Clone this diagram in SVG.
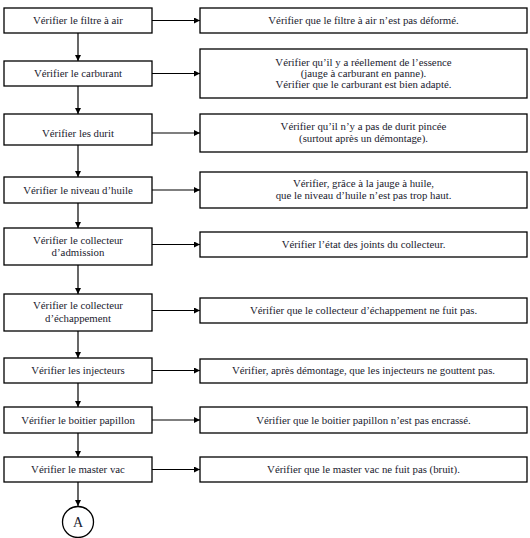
<svg xmlns="http://www.w3.org/2000/svg" width="530" height="538" viewBox="0 0 530 538">
<style>
.box{fill:#fff;stroke:#000;stroke-width:1.3}
text{font-family:"Liberation Serif","Times New Roman",serif;font-size:10.8px;fill:#1a1a2e;text-anchor:middle}
.ln{stroke:#000;stroke-width:1.2;fill:none}
</style>
<defs>
<marker id="ah" viewBox="0 0 10 10" refX="10" refY="5" markerWidth="6" markerHeight="6" markerUnits="userSpaceOnUse" orient="auto"><path d="M0,0L10,5L0,10z" fill="#000"/></marker>
</defs>
<rect width="530" height="538" fill="#fff"/>
<g id="connectors">
<line class="ln" x1="78" y1="33" x2="78" y2="61" marker-end="url(#ah)"/>
<line class="ln" x1="78" y1="86" x2="78" y2="114" marker-end="url(#ah)"/>
<line class="ln" x1="78" y1="145" x2="78" y2="177" marker-end="url(#ah)"/>
<line class="ln" x1="78" y1="203" x2="78" y2="228" marker-end="url(#ah)"/>
<line class="ln" x1="78" y1="265" x2="78" y2="294" marker-end="url(#ah)"/>
<line class="ln" x1="78" y1="331" x2="78" y2="358" marker-end="url(#ah)"/>
<line class="ln" x1="78" y1="383" x2="78" y2="407" marker-end="url(#ah)"/>
<line class="ln" x1="78" y1="433" x2="78" y2="457" marker-end="url(#ah)"/>
<line class="ln" x1="78" y1="482" x2="78" y2="506" marker-end="url(#ah)"/>
<line class="ln" x1="152" y1="20.5" x2="200" y2="20.5" marker-end="url(#ah)"/>
<line class="ln" x1="152" y1="73.5" x2="200" y2="73.5" marker-end="url(#ah)"/>
<line class="ln" x1="152" y1="133" x2="200" y2="133" marker-end="url(#ah)"/>
<line class="ln" x1="152" y1="190" x2="200" y2="190" marker-end="url(#ah)"/>
<line class="ln" x1="152" y1="244.5" x2="200" y2="244.5" marker-end="url(#ah)"/>
<line class="ln" x1="152" y1="310.5" x2="200" y2="310.5" marker-end="url(#ah)"/>
<line class="ln" x1="152" y1="370.5" x2="200" y2="370.5" marker-end="url(#ah)"/>
<line class="ln" x1="152" y1="420" x2="200" y2="420" marker-end="url(#ah)"/>
<line class="ln" x1="152" y1="469.5" x2="200" y2="469.5" marker-end="url(#ah)"/>
</g>
<g id="n1"><rect class="box" x="4" y="8" width="148" height="25"/><text x="78" y="24">Vérifier le filtre à air</text></g>
<g id="n2"><rect class="box" x="4" y="61" width="148" height="25"/><text x="78" y="77">Vérifier le carburant</text></g>
<g id="n3"><rect class="box" x="4" y="114" width="148" height="31"/><text x="78" y="137">Vérifier les durit</text></g>
<g id="n4"><rect class="box" x="4" y="177" width="148" height="26"/><text x="78" y="194">Vérifier le niveau d’huile</text></g>
<g id="n5"><rect class="box" x="4" y="228" width="148" height="37"/><text x="78" y="244">Vérifier le collecteur</text><text x="78" y="256">d’admission</text></g>
<g id="n6"><rect class="box" x="4" y="294" width="148" height="37"/><text x="78" y="309">Vérifier le collecteur</text><text x="78" y="322">d’échappement</text></g>
<g id="n7"><rect class="box" x="4" y="358" width="148" height="25"/><text x="78" y="374">Vérifier les injecteurs</text></g>
<g id="n8"><rect class="box" x="4" y="407" width="148" height="26"/><text x="78" y="424">Vérifier le boitier papillon</text></g>
<g id="n9"><rect class="box" x="4" y="457" width="148" height="25"/><text x="78" y="473">Vérifier le master vac</text></g>
<g id="nA"><circle cx="78" cy="522" r="15.5" fill="#fff" stroke="#000" stroke-width="1.3"/><text x="78" y="527" style="font-size:14px">A</text></g>
<g id="r1"><rect class="box" x="200" y="8" width="327" height="25"/><text x="363.5" y="24">Vérifier que le filtre à air n’est pas déformé.</text></g>
<g id="r2"><rect class="box" x="200" y="49" width="327" height="49"/><text x="363.5" y="66">Vérifier qu’il y a réellement de l’essence</text><text x="363.5" y="77">(jauge à carburant en panne).</text><text x="363.5" y="88">Vérifier que le carburant est bien adapté.</text></g>
<g id="r3"><rect class="box" x="200" y="114" width="327" height="38"/><text x="363.5" y="130">Vérifier qu’il n’y a pas de durit pincée</text><text x="363.5" y="142">(surtout après un démontage).</text></g>
<g id="r4"><rect class="box" x="200" y="172" width="327" height="36"/><text x="363.5" y="187">Vérifier, grâce à la jauge à huile,</text><text x="363.5" y="199">que le niveau d’huile n’est pas trop haut.</text></g>
<g id="r5"><rect class="box" x="200" y="232" width="327" height="25"/><text x="363.5" y="248">Vérifier l’état des joints du collecteur.</text></g>
<g id="r6"><rect class="box" x="200" y="298" width="327" height="25"/><text x="363.5" y="314">Vérifier que le collecteur d’échappement ne fuit pas.</text></g>
<g id="r7"><rect class="box" x="200" y="359" width="327" height="24"/><text x="363.5" y="374">Vérifier, après démontage, que les injecteurs ne gouttent pas.</text></g>
<g id="r8"><rect class="box" x="200" y="407" width="327" height="26"/><text x="363.5" y="424">Vérifier que le boitier papillon n’est pas encrassé.</text></g>
<g id="r9"><rect class="box" x="200" y="457" width="327" height="25"/><text x="363.5" y="473">Vérifier que le master vac ne fuit pas (bruit).</text></g>
</svg>
